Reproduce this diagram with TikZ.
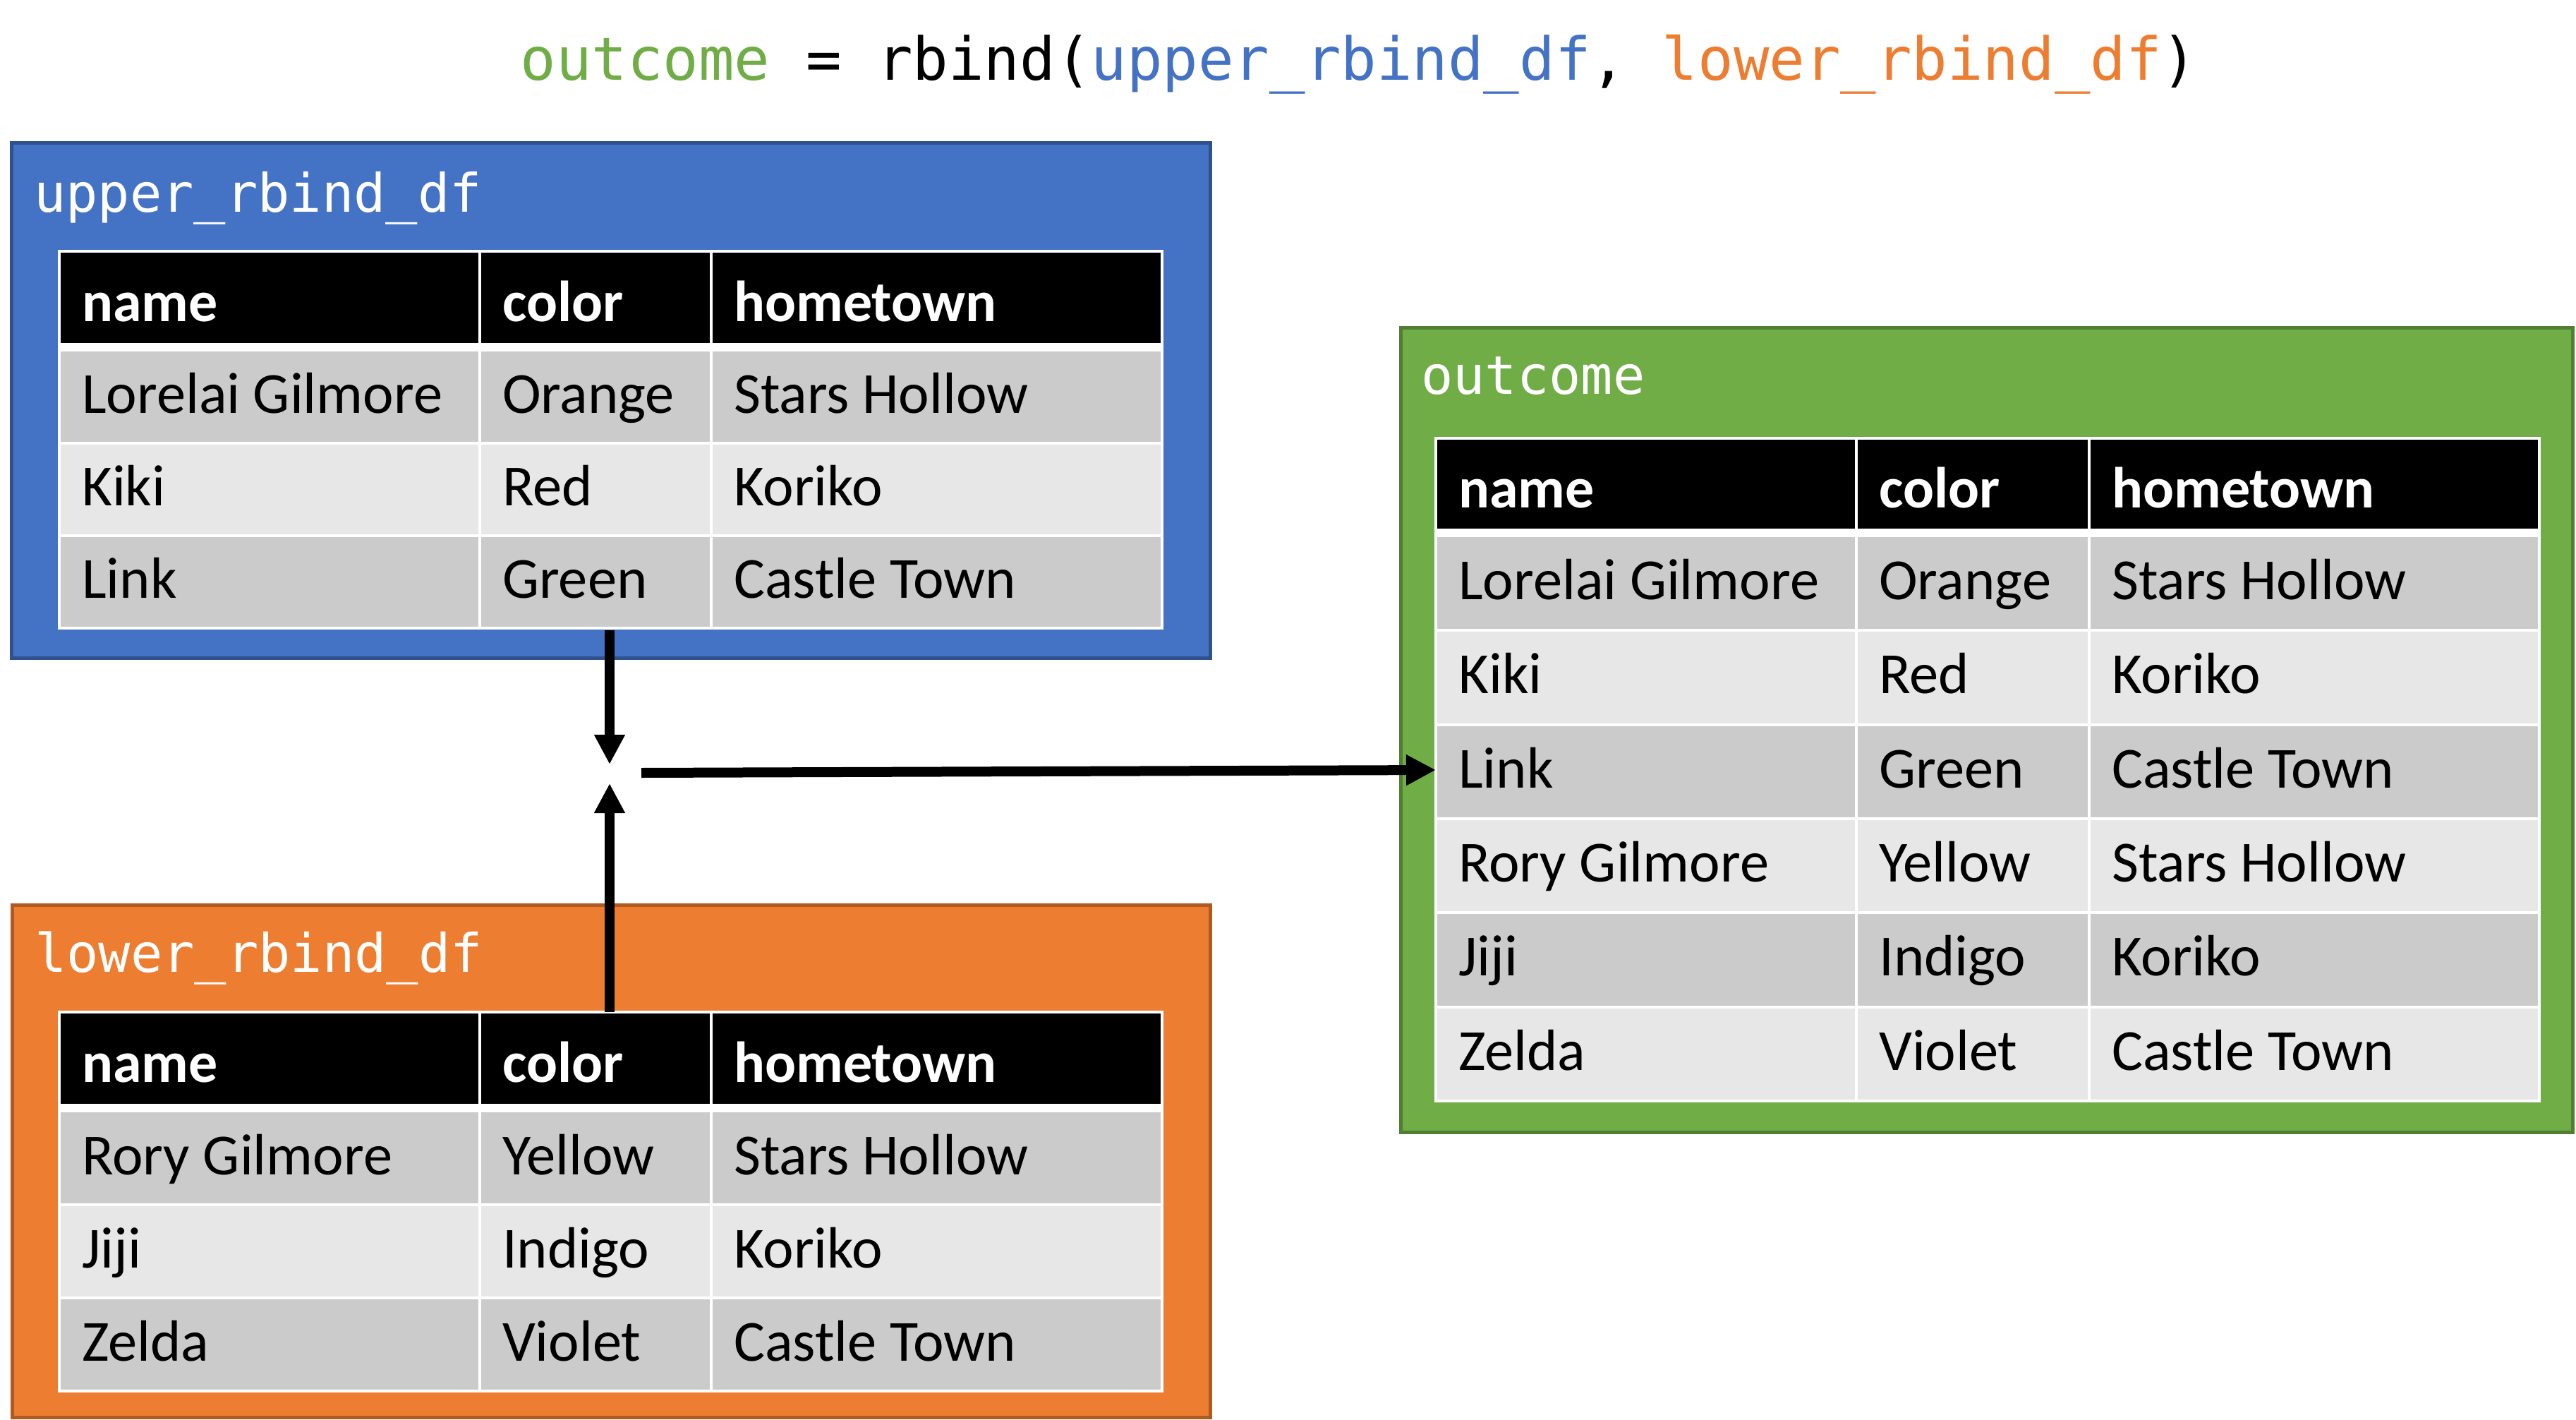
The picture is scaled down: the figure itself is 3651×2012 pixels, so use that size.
\documentclass[tikz,border=0pt]{standalone}
\usepackage{fontspec}
\setmainfont{Carlito}
\newfontfamily\monof{DejaVu Sans Mono}
\usetikzlibrary{arrows.meta}
\definecolor{bluefill}{HTML}{4472C4}
\definecolor{blueline}{HTML}{2F528F}
\definecolor{orangefill}{HTML}{ED7D31}
\definecolor{orangeline}{HTML}{AE5A21}
\definecolor{greenfill}{HTML}{70AD47}
\definecolor{greenline}{HTML}{507E32}
\definecolor{rowdark}{HTML}{CBCBCB}
\definecolor{rowlight}{HTML}{E7E7E7}
\tikzset{
  hd/.style={anchor=base west, inner sep=0pt, text=white, font=\fontsize{82}{98}\selectfont\bfseries},
  cell/.style={anchor=base west, inner sep=0pt, text=black, font=\fontsize{82.5}{98}\selectfont},
  dflabel/.style={anchor=base west, inner sep=0pt, text=white, font=\monof\fontsize{75.3}{90}\selectfont},
  frame/.style={line width=5pt},
  flow/.style={line width=14pt, -{Triangle[length=42pt,width=41pt]}},
  sep/.style={white, line width=4pt},
}
% #1 prefix, #2 xa, #3 xb, #4 xc, #5 xd, #6 ytop, #7 yrow, #8 rowh, #9 rows ; \tabn = number of rows
\newcommand\dftable[9]{%
  \pgfmathsetmacro\tyend{#7+#8*\tabn}%
  \pgfmathsetmacro\tyhc{(#6+#7)/2+29}%
  \fill[black] (#2,#6) rectangle (#5,#7);
  \node[hd] (#1-h1) at (#2+32,\tyhc) {name};
  \node[hd] (#1-h2) at (#3+32,\tyhc) {color};
  \node[hd] (#1-h3) at (#4+32,\tyhc) {hometown};
  \foreach \i/\ca/\cb/\cc in {#9} {
    \pgfmathsetmacro\ya{#7+(\i-1)*#8}
    \pgfmathsetmacro\yb{\ya+#8}
    \pgfmathsetmacro\yt{\ya+#8/2+23}
    \ifodd\i \def\rc{rowdark}\else\def\rc{rowlight}\fi
    \fill[\rc] (#2,\ya) rectangle (#5,\yb);
    \node[cell] (#1-\i-1) at (#2+32,\yt) {\ca};
    \node[cell] (#1-\i-2) at (#3+32,\yt) {\cb};
    \node[cell] (#1-\i-3) at (#4+32,\yt) {\cc};
  }
  \foreach \k in {1,...,\tabn} {
    \draw[sep] (#2,#7+\k*#8) -- (#5,#7+\k*#8);
  }
  \draw[white, line width=12pt] (#2,#7-5) -- (#5,#7-5);
  \draw[sep] (#3,#6) -- (#3,\tyend);
  \draw[sep] (#4,#6) -- (#4,\tyend);
  \draw[sep] (#2,#6) rectangle (#5,\tyend);
}
\begin{document}
\begin{tikzpicture}[x=1pt,y=-1pt]
\useasboundingbox[fill=white] (0,0) rectangle (3651,2012);
% title
\node[anchor=base, inner sep=0pt, font=\monof\fontsize{84}{100}\selectfont] (title) at (1926,114)
  {\textcolor{greenfill}{outcome} = rbind(\textcolor{bluefill}{upper\_rbind\_df}, \textcolor{orangefill}{lower\_rbind\_df})};
% containers
\filldraw[frame, fill=bluefill, draw=blueline] (16,203) rectangle (1715,932);
\filldraw[frame, fill=orangefill, draw=orangeline] (17,1282) rectangle (1715,2008);
\filldraw[frame, fill=greenfill, draw=greenline] (1985,464) rectangle (3646,1604);
\node[dflabel] (uplabel) at (48,300) {upper\_rbind\_df};
\node[dflabel] (lowlabel) at (49,1377) {lower\_rbind\_df};
\node[dflabel] (outlabel) at (2014,558) {outcome};
% tables
\def\tabn{3}
\dftable{up}{84}{680}{1008}{1647}{356}{497}{131}{1/Lorelai Gilmore/Orange/Stars Hollow,2/Kiki/Red/Koriko,3/Link/Green/Castle Town}
\dftable{lo}{84}{680}{1008}{1647}{1434}{1575}{132}{1/Rory Gilmore/Yellow/Stars Hollow,2/Jiji/Indigo/Koriko,3/Zelda/Violet/Castle Town}
\def\tabn{6}
\dftable{out}{2035}{2631}{2961}{3599}{621}{760}{133.3}{1/Lorelai Gilmore/Orange/Stars Hollow,2/Kiki/Red/Koriko,3/Link/Green/Castle Town,4/Rory Gilmore/Yellow/Stars Hollow,5/Jiji/Indigo/Koriko,6/Zelda/Violet/Castle Town}
% connectors
\coordinate (dstart) at (864,893);
\coordinate (dtip) at (864,1083);
\coordinate (ustart) at (864,1434);
\coordinate (utip) at (864,1110);
\coordinate (hstart) at (909,1095);
\coordinate (htip) at (2035,1091);
\draw[flow] (dstart) -- (dtip);
\draw[flow] (ustart) -- (utip);
\draw[flow] (hstart) -- (htip);
\end{tikzpicture}
\end{document}
